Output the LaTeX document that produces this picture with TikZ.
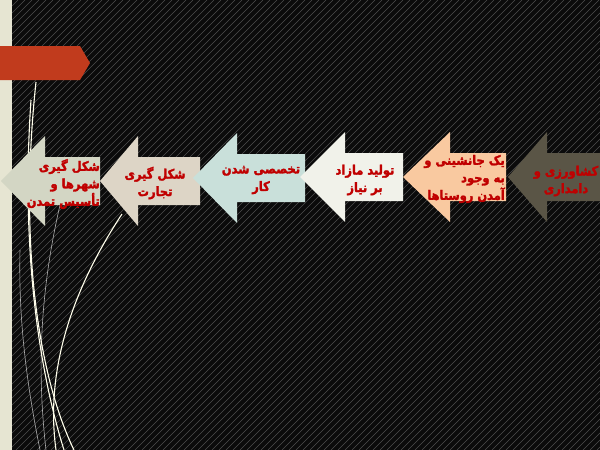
\documentclass[tikz,border=0pt]{standalone}
\usepackage{fontspec}
\newfontfamily\arabicfont[Script=Arabic, FakeBold=2.2, FakeStretch=0.88]{DejaVu Sans}
\TeXXeTstate=1
\definecolor{bgblack}{HTML}{0B0B0B}
\definecolor{hatch}{HTML}{4E4E4E}
\definecolor{stripc}{HTML}{E6E5D2}
\definecolor{bannerc}{HTML}{C13B1D}
\definecolor{darkarr}{HTML}{5A5546}
\definecolor{peach}{HTML}{F9C9A0}
\definecolor{creamc}{HTML}{F1F2EA}
\definecolor{tealc}{HTML}{C9E0DA}
\definecolor{beigec}{HTML}{DDD5C6}
\definecolor{leftc}{HTML}{D3D6C4}
\definecolor{txtred}{HTML}{C00000}
\tikzset{
  lbl/.style={text=txtred, font=\arabicfont\bfseries\fontsize{13}{17.5}\selectfont, inner sep=0pt},
  curvew/.style={draw=white!92!yellow, line width=1.1pt},
  curveg/.style={draw=gray!60, line width=0.6pt}
}
% arrow: #1 color, #2 tip x, #3 head base x, #4 right x, #5 y offset
\newcommand{\leftarr}[5]{%
  \fill[#1] (#2,177+#5) -- (#3,132+#5) -- (#3,153+#5) -- (#4,153+#5) -- (#4,201+#5) -- (#3,201+#5) -- (#3,222+#5) -- cycle;}
\begin{document}
\begin{tikzpicture}[x=1pt,y=-1pt]
\useasboundingbox (0,0) rectangle (600,450);
\fill[bgblack] (0,0) rectangle (600,450);
\begin{scope}
\clip (0,0) rectangle (600,450);
\foreach \i in {-460,-453,...,610} \draw[hatch, line width=0.5pt] (\i,450) -- ({\i+450},0);
\end{scope}
\fill[stripc] (0,0) rectangle (12,450);
% curves
\draw[curveg] (60,205) .. controls (38,300) and (38,380) .. (46,450);
\draw[curveg] (20,250) .. controls (18,330) and (30,400) .. (40,450);
\draw[curvew] (36,82) .. controls (18,250) and (40,380) .. (74,450);
\draw[curvew] (31,100) .. controls (20,260) and (42,380) .. (64,450);
\draw[curvew] (122,214) .. controls (72,290) and (45,370) .. (56,450);
% banner
\fill[bannerc] (0,46) -- (80,46) -- (90,63) -- (80,80) -- (0,80) -- cycle;
% arrows
\leftarr{leftc}{1}{45}{100}{4}
\leftarr{beigec}{100}{138}{200}{4}
\leftarr{tealc}{193}{237}{305}{1}
\leftarr{creamc}{300}{345}{403}{0}
\leftarr{peach}{403}{450}{506}{0}
\leftarr{darkarr}{508}{547}{610}{0}
% labels
\node[lbl, align=center] (t1) at (566,181) {\beginR کشاورزی و\endR\\\beginR دامداری\endR};
\node[lbl, align=right, anchor=east] (t2) at (505,179) {\beginR یک جانشینی و\endR\\\beginR به وجود\endR\\\beginR آمدن روستاها\endR};
\node[lbl, align=center] (t3) at (365,180) {\beginR تولید مازاد\endR\\\beginR بر نیاز\endR};
\node[lbl, align=center] (t4) at (261,180) {\beginR تخصصی شدن\endR\\\beginR کار\endR};
\node[lbl, align=center] (t5) at (155,183) {\beginR شکل گیری\endR\\\beginR تجارت\endR};
\node[lbl, align=right, anchor=east] (t6) at (100,184) {\beginR شکل گیری\endR\\\beginR شهرها و\endR\\\beginR تأسیس تمدن\endR};
\end{tikzpicture}
\end{document}
